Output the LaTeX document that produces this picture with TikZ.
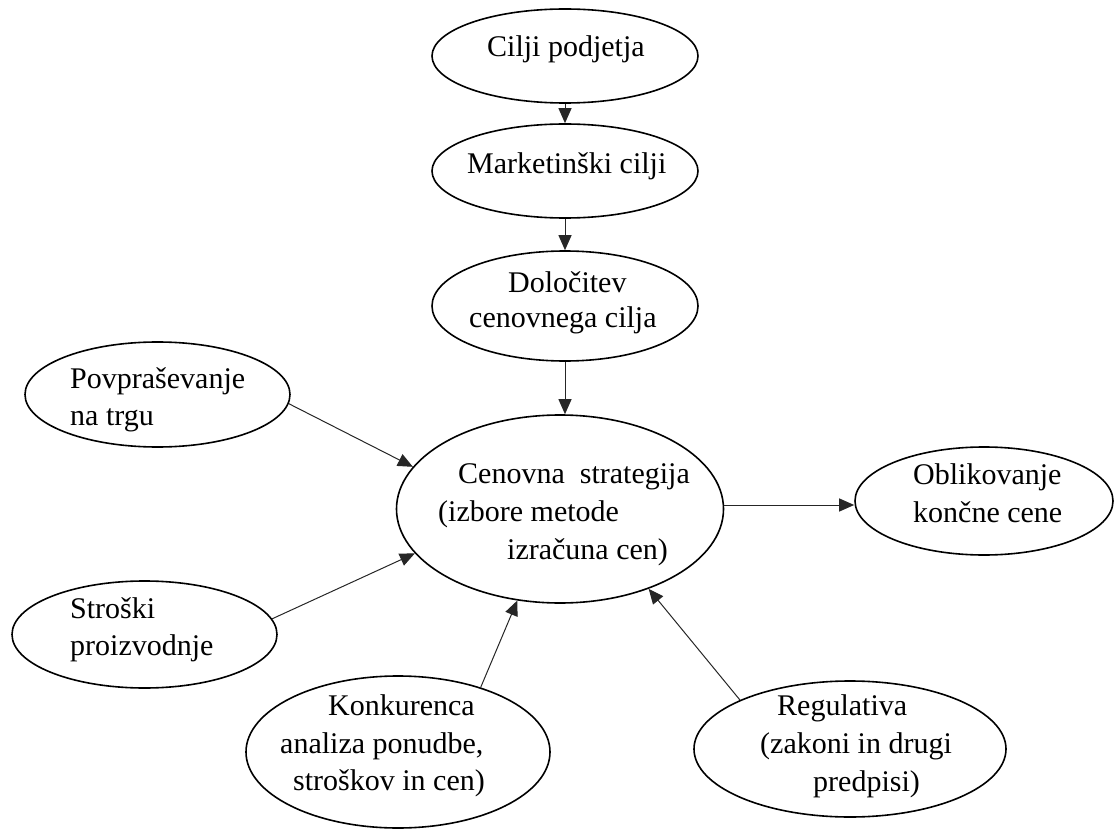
\documentclass[tikz,border=0pt]{standalone}
\usepackage{fontspec}
\setmainfont{Liberation Serif}
\usetikzlibrary{shapes.geometric,arrows.meta}
\tikzset{
  oval/.style={ellipse,draw=black,line width=1.6pt,inner sep=0pt},
  txt/.style={anchor=base west,inner sep=0pt,font=\fontsize{30}{36}\selectfont},
  conn/.style={line width=1pt,draw=black!85,-{Triangle[length=15pt,width=13pt]}}
}
\begin{document}
\begin{tikzpicture}[x=1pt,y=-1pt]
\useasboundingbox (0,0) rectangle (1114,829);
% ellipses
\node[oval,minimum width=266pt,minimum height=94pt] (cil) at (565,56) {};
\node[oval,minimum width=266pt,minimum height=94pt] (mar) at (565,171) {};
\node[oval,minimum width=266pt,minimum height=110pt] (dol) at (565,306) {};
\node[oval,minimum width=327pt,minimum height=188pt] (cen) at (560,509) {};
\node[oval,minimum width=258pt,minimum height=108pt] (obl) at (984,501) {};
\node[oval,minimum width=265pt,minimum height=105pt] (pov) at (157.5,394.5) {};
\node[oval,minimum width=265pt,minimum height=107pt] (str) at (144.5,634.5) {};
\node[oval,minimum width=304pt,minimum height=152pt] (kon) at (398,752) {};
\node[oval,minimum width=312pt,minimum height=136pt] (reg) at (850,749) {};
% texts
\node[txt] (t1) at (487,57) {Cilji podjetja};
\node[txt] (t2) at (467,174) {Marketinški cilji};
\node[txt] (t3a) at (508,292) {Določitev};
\node[txt] (t3b) at (469,327) {cenovnega cilja};
\node[txt] (t4a) at (458,483) {Cenovna\ \ strategija};
\node[txt] (t4b) at (438,521) {(izbore metode};
\node[txt] (t4c) at (507,559) {izračuna cen)};
\node[txt] (t5a) at (913,484) {Oblikovanje};
\node[txt] (t5b) at (913,522) {končne cene};
\node[txt] (t6a) at (70,388) {Povpraševanje};
\node[txt] (t6b) at (70,425) {na trgu};
\node[txt] (t7a) at (70,618) {Stroški};
\node[txt] (t7b) at (70,655) {proizvodnje};
\node[txt] (t8a) at (328,715) {Konkurenca};
\node[txt] (t8b) at (280,753) {analiza ponudbe,};
\node[txt] (t8c) at (293,790) {stroškov in cen)};
\node[txt] (t9a) at (777,715) {Regulativa};
\node[txt] (t9b) at (760,753) {(zakoni in drugi};
\node[txt] (t9c) at (813,791) {predpisi)};
% connectors
\draw[conn] (cil.south) -- (mar.north);
\draw[conn] (mar.south) -- (dol.north);
\draw[conn] (dol.south) -- (dol.south |- cen.north);
\draw[conn] (cen.east |- 0,505) -- (obl.west |- 0,505);
\draw[conn] (pov.-4.5) -- (cen.164);
\draw[conn] (str.7.5) -- (cen.197);
\draw[conn] (kon.38) -- (cen.245);
\draw[conn] (reg.156) -- (cen.318);
\end{tikzpicture}
\end{document}
